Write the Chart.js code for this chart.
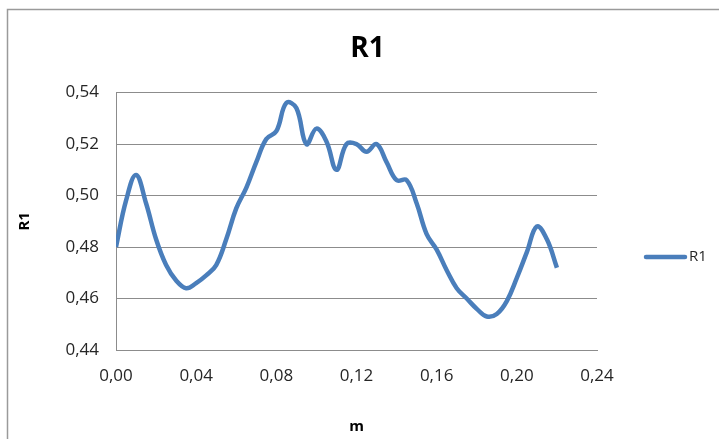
<!DOCTYPE html>
<html>
<head>
<meta charset="utf-8">
<script src="https://cdn.jsdelivr.net/npm/chart.js@4.4.1/dist/chart.umd.min.js"></script>
<style>
  html, body { margin: 0; padding: 0; background: #fff; }
  #wrap { width: 719px; height: 439px; }
</style>
</head>
<body>
<div id="wrap"><canvas id="r1-chart" width="719" height="439"></canvas></div>
<script>
// === DATA ===
const mValues = [
  0.000, 0.005, 0.010, 0.015, 0.020, 0.025, 0.030, 0.035, 0.040, 0.045,
  0.050, 0.055, 0.060, 0.065, 0.070, 0.075, 0.080, 0.085, 0.090, 0.095,
  0.100, 0.105, 0.110, 0.115, 0.120, 0.125, 0.130, 0.135, 0.140, 0.145,
  0.150, 0.155, 0.160, 0.165, 0.170, 0.175, 0.180, 0.185, 0.190, 0.195,
  0.200, 0.205, 0.210, 0.215, 0.220
];
const r1Values = [
  0.480, 0.498, 0.508, 0.497, 0.483, 0.473, 0.467, 0.464, 0.466, 0.469,
  0.473, 0.483, 0.495, 0.503, 0.513, 0.522, 0.525, 0.536, 0.534, 0.520,
  0.526, 0.521, 0.510, 0.520, 0.520, 0.517, 0.520, 0.513, 0.506, 0.506,
  0.497, 0.485, 0.479, 0.471, 0.464, 0.460, 0.456, 0.453, 0.454, 0.459,
  0.468, 0.478, 0.488, 0.483, 0.472
];
const xTicks = { min: 0, max: 0.24, step: 0.04 };
const yTicks = { min: 0.44, max: 0.54, step: 0.02 };

const LINE_BLUE = '#4a7ebb';
const GRID_GREY = '#8c8c8c';
const TEXT_DARK = '#262626';
const FONT = "'Open Sans', 'Liberation Sans', sans-serif";

const comma = v => Number(v).toFixed(2).replace('.', ',');

// outer frame + legend on the right
const framePlugin = {
  id: 'frame',
  beforeDraw(chart) {
    const ctx = chart.ctx;
    ctx.save();
    ctx.strokeStyle = '#9a9a9a';
    ctx.lineWidth = 1.5;
    ctx.strokeRect(7.5, 9.5, 900, 600);
    ctx.restore();
  },
  afterDraw(chart) {
    const ctx = chart.ctx;
    const ds = chart.data.datasets[0];
    const y = 257;
    ctx.save();
    ctx.strokeStyle = ds.borderColor;
    ctx.lineWidth = ds.borderWidth;
    ctx.lineCap = 'round';
    ctx.beginPath();
    ctx.moveTo(646, y);
    ctx.lineTo(685, y);
    ctx.stroke();
    ctx.fillStyle = TEXT_DARK;
    ctx.font = `15px ${FONT}`;
    ctx.textBaseline = 'middle';
    ctx.fillText(ds.label, 689, y);
    ctx.restore();
  }
};

const ctx = document.getElementById('r1-chart').getContext('2d');
new Chart(ctx, {
  type: 'line',
  data: {
    datasets: [{
      label: 'R1',
      data: mValues.map((m, i) => ({ x: m, y: r1Values[i] })),
      borderColor: LINE_BLUE,
      borderWidth: 4.5,
      pointRadius: 0,
      tension: 0.4,
      fill: false
    }]
  },
  options: {
    responsive: false,
    animation: false,
    layout: { padding: { left: 16, right: 0, top: 0, bottom: 0 } },
    plugins: {
      legend: { display: false },
      tooltip: { enabled: false },
      title: {
        display: true,
        text: 'R1',
        color: '#000',
        font: { family: FONT, size: 28, weight: 'bold' },
        padding: { top: 32, bottom: 27 }
      }
    },
    scales: {
      x: {
        type: 'linear',
        min: xTicks.min,
        max: xTicks.max,
        afterFit(scale) { scale.height = 89; },
        ticks: {
          stepSize: xTicks.step,
          padding: 16,
          color: TEXT_DARK,
          font: { family: FONT, size: 17 },
          callback: v => comma(v)
        },
        grid: { display: false, drawTicks: false },
        border: { display: true, color: GRID_GREY, width: 1 },
        title: {
          display: true,
          text: 'm',
          color: '#000',
          font: { family: FONT, size: 15, weight: 'bold' },
          padding: { top: 0, bottom: 3 }
        }
      },
      y: {
        min: yTicks.min,
        max: yTicks.max,
        afterFit(scale) { scale.width = 100; },
        ticks: {
          stepSize: yTicks.step,
          padding: 17,
          color: TEXT_DARK,
          font: { family: FONT, size: 17 },
          callback: v => comma(v)
        },
        grid: { color: GRID_GREY, lineWidth: 1, drawTicks: false },
        border: { display: true, color: GRID_GREY, width: 1 },
        title: {
          display: true,
          text: 'R1',
          color: '#000',
          font: { family: FONT, size: 15, weight: 'bold' },
          padding: { top: 0, bottom: 0 }
        }
      },
      // empty right-hand strip that leaves room for the legend
      legendSpace: {
        type: 'linear',
        position: 'right',
        afterFit(scale) { scale.width = 122; },
        ticks: { display: false },
        grid: { display: false, drawTicks: false },
        border: { display: false }
      }
    }
  },
  plugins: [framePlugin]
});
</script>
</body>
</html>
